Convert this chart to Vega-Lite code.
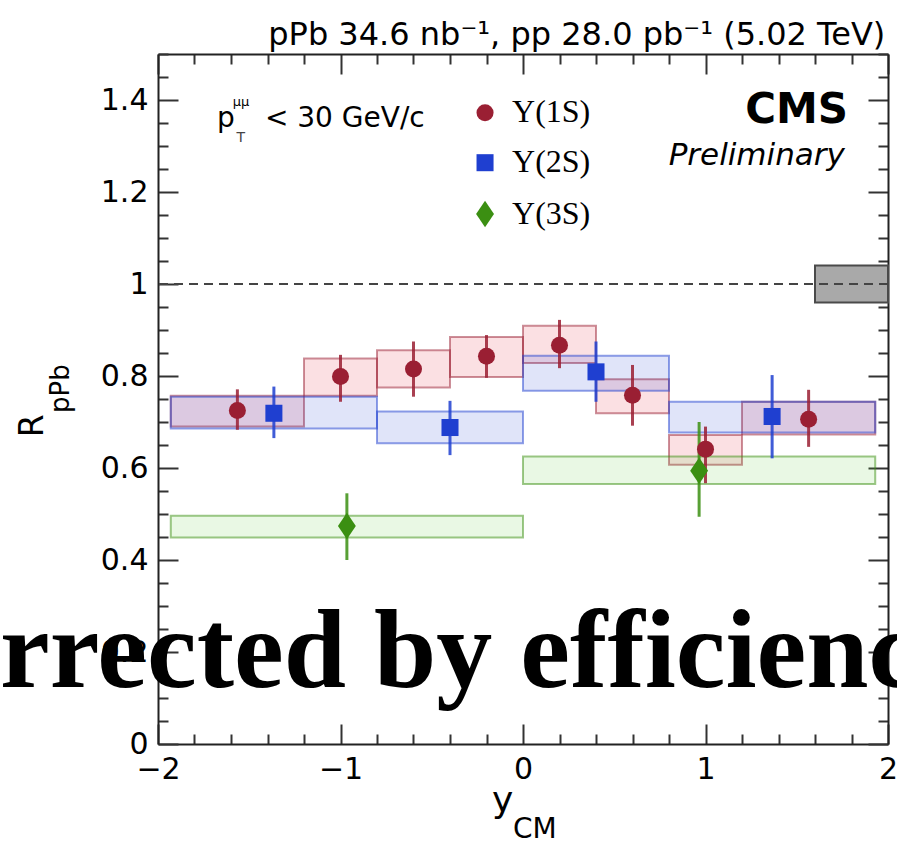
{
  "$schema": "https://vega.github.io/schema/vega-lite/v6.json",
  "width": 730,
  "height": 690,
  "autosize": {"type": "none"},
  "padding": {"left": 158, "top": 54, "right": 9, "bottom": 98},
  "background": "white",
  "config": {
    "view": {"stroke": null},
    "axis": {"grid": false}
  },
  "datasets": {
    "pts": [
      {"s": "Υ(1S)", "x": -1.565, "y": 0.725, "xlo": -1.93, "xhi": -1.2, "slo": 0.69, "shi": 0.757, "elo": 0.683, "ehi": 0.771},
      {"s": "Υ(1S)", "x": -1.0, "y": 0.799, "xlo": -1.2, "xhi": -0.8, "slo": 0.757, "shi": 0.838, "elo": 0.744, "ehi": 0.846},
      {"s": "Υ(1S)", "x": -0.6, "y": 0.815, "xlo": -0.8, "xhi": -0.4, "slo": 0.775, "shi": 0.856, "elo": 0.755, "ehi": 0.875},
      {"s": "Υ(1S)", "x": -0.2, "y": 0.843, "xlo": -0.4, "xhi": 0.0, "slo": 0.798, "shi": 0.885, "elo": 0.796, "ehi": 0.889},
      {"s": "Υ(1S)", "x": 0.2, "y": 0.867, "xlo": 0.0, "xhi": 0.4, "slo": 0.828, "shi": 0.909, "elo": 0.817, "ehi": 0.922},
      {"s": "Υ(1S)", "x": 0.6, "y": 0.758, "xlo": 0.4, "xhi": 0.8, "slo": 0.719, "shi": 0.793, "elo": 0.692, "ehi": 0.824},
      {"s": "Υ(1S)", "x": 1.0, "y": 0.641, "xlo": 0.8, "xhi": 1.2, "slo": 0.607, "shi": 0.672, "elo": 0.567, "ehi": 0.69},
      {"s": "Υ(1S)", "x": 1.565, "y": 0.706, "xlo": 1.2, "xhi": 1.93, "slo": 0.673, "shi": 0.744, "elo": 0.646, "ehi": 0.77},
      {"s": "Υ(2S)", "x": -1.365, "y": 0.719, "xlo": -1.93, "xhi": -0.8, "slo": 0.686, "shi": 0.755, "elo": 0.665, "ehi": 0.777},
      {"s": "Υ(2S)", "x": -0.4, "y": 0.688, "xlo": -0.8, "xhi": 0.0, "slo": 0.654, "shi": 0.723, "elo": 0.628, "ehi": 0.746},
      {"s": "Υ(2S)", "x": 0.4, "y": 0.809, "xlo": 0.0, "xhi": 0.8, "slo": 0.768, "shi": 0.844, "elo": 0.744, "ehi": 0.875},
      {"s": "Υ(2S)", "x": 1.365, "y": 0.712, "xlo": 0.8, "xhi": 1.93, "slo": 0.677, "shi": 0.744, "elo": 0.621, "ehi": 0.802},
      {"s": "Υ(3S)", "x": -0.965, "y": 0.474, "xlo": -1.93, "xhi": 0.0, "slo": 0.449, "shi": 0.496, "elo": 0.40, "ehi": 0.545},
      {"s": "Υ(3S)", "x": 0.965, "y": 0.594, "xlo": 0.0, "xhi": 1.93, "slo": 0.565, "shi": 0.625, "elo": 0.494, "ehi": 0.70}
    ],
    "glob": [{"xlo": 1.6, "xhi": 2.0, "ylo": 0.96, "yhi": 1.04}]
  },
  "layer": [
    {
      "data": {"name": "pts"},
      "mark": {"type": "rect", "fillOpacity": 0.14, "strokeOpacity": 0.5, "strokeWidth": 2},
      "encoding": {
        "x": {"field": "xlo", "type": "quantitative",
          "scale": {"domain": [-2, 2], "nice": false, "zero": false},
          "axis": {"orient": "bottom", "title": null,
            "values": [-2,-1.8,-1.6,-1.4,-1.2,-1,-0.8,-0.6,-0.4,-0.2,0,0.2,0.4,0.6,0.8,1,1.2,1.4,1.6,1.8,2],
            "format": "~g",
            "labelExpr": "abs(datum.value-round(datum.value))<0.001 ? datum.label : ''",
            "tickSize": {"condition": {"test": "abs(datum.value-round(datum.value))<0.001", "value": -20}, "value": -10},
            "labelFont": "DejaVu Sans", "labelFontSize": 30, "labelColor": "black",
            "labelPadding": 30, "labelFlush": false, "labelOverlap": false,
            "domainColor": "#222222", "domainWidth": 2, "tickColor": "#333333", "tickWidth": 2}},
        "x2": {"field": "xhi"},
        "y": {"field": "slo", "type": "quantitative",
          "scale": {"domain": [0, 1.5], "nice": false, "zero": false},
          "axis": {"orient": "left", "title": null,
            "values": [0,0.05,0.1,0.15,0.2,0.25,0.3,0.35,0.4,0.45,0.5,0.55,0.6,0.65,0.7,0.75,0.8,0.85,0.9,0.95,1,1.05,1.1,1.15,1.2,1.25,1.3,1.35,1.4,1.45,1.5],
            "format": "~g",
            "labelExpr": "abs(datum.value*5-round(datum.value*5))<0.001 ? datum.label : ''",
            "tickSize": {"condition": {"test": "abs(datum.value*5-round(datum.value*5))<0.001", "value": -20}, "value": -10},
            "labelFont": "DejaVu Sans", "labelFontSize": 30, "labelColor": "black",
            "labelPadding": 30, "labelFlush": false, "labelOverlap": false,
            "domainColor": "#222222", "domainWidth": 2, "tickColor": "#333333", "tickWidth": 2}},
        "y2": {"field": "shi"},
        "fill": {"field": "s", "type": "nominal", "scale": {"domain": ["Υ(1S)", "Υ(2S)", "Υ(3S)"], "range": ["#e0203a", "#2040d8", "#60d040"]}, "legend": null},
        "stroke": {"field": "s", "type": "nominal", "scale": {"domain": ["Υ(1S)", "Υ(2S)", "Υ(3S)"], "range": ["#9a1f33", "#1f3fd0", "#3b8f12"]}, "legend": null}
      }
    },
    {
      "data": {"name": "glob"},
      "mark": {"type": "rect", "fill": "#a9a9a9", "stroke": "#4a4a4a", "strokeWidth": 2},
      "encoding": {
        "x": {"field": "xlo", "type": "quantitative",
          "axis": {"orient": "top", "title": null, "labels": false,
            "values": [-2,-1.8,-1.6,-1.4,-1.2,-1,-0.8,-0.6,-0.4,-0.2,0,0.2,0.4,0.6,0.8,1,1.2,1.4,1.6,1.8,2],
            "tickSize": {"condition": {"test": "abs(datum.value-round(datum.value))<0.001", "value": -20}, "value": -10},
            "domainColor": "#222222", "domainWidth": 2, "tickColor": "#333333", "tickWidth": 2}},
        "x2": {"field": "xhi"},
        "y": {"field": "ylo", "type": "quantitative",
          "axis": {"orient": "right", "title": null, "labels": false,
            "values": [0,0.05,0.1,0.15,0.2,0.25,0.3,0.35,0.4,0.45,0.5,0.55,0.6,0.65,0.7,0.75,0.8,0.85,0.9,0.95,1,1.05,1.1,1.15,1.2,1.25,1.3,1.35,1.4,1.45,1.5],
            "tickSize": {"condition": {"test": "abs(datum.value*5-round(datum.value*5))<0.001", "value": -20}, "value": -10},
            "domainColor": "#222222", "domainWidth": 2, "tickColor": "#333333", "tickWidth": 2}},
        "y2": {"field": "yhi"}
      }
    },
    {
      "data": {"values": [{}]},
      "mark": {"type": "rule", "stroke": "#444444", "strokeWidth": 2, "strokeDash": [9, 6]},
      "encoding": {"y": {"datum": 1, "type": "quantitative", "axis": null}}
    },
    {
      "data": {"name": "pts"},
      "mark": {"type": "rule", "strokeWidth": 3, "opacity": 0.85},
      "encoding": {
        "x": {"field": "x", "type": "quantitative", "axis": null},
        "y": {"field": "elo", "type": "quantitative", "axis": null},
        "y2": {"field": "ehi"},
        "color": {"field": "s", "type": "nominal", "scale": {"domain": ["Υ(1S)", "Υ(2S)", "Υ(3S)"], "range": ["#9a1f33", "#1f3fd0", "#3b8f12"]}, "legend": null}
      }
    },
    {
      "data": {"name": "pts"},
      "mark": {"type": "point", "filled": true, "size": 290, "opacity": 1},
      "encoding": {
        "x": {"field": "x", "type": "quantitative", "axis": null},
        "y": {"field": "y", "type": "quantitative", "axis": null},
        "color": {"field": "s", "type": "nominal", "scale": {"domain": ["Υ(1S)", "Υ(2S)", "Υ(3S)"], "range": ["#9a1f33", "#1f3fd0", "#3b8f12"]}, "legend": null},
        "shape": {"field": "s", "type": "nominal", "scale": {"domain": ["Υ(1S)", "Υ(2S)", "Υ(3S)"], "range": ["circle", "square", "M0,-1.55L1.05,0L0,1.55L-1.05,0Z"]}, "legend": null}
      }
    },
    {
      "data": {"values": [{"s": "Υ(1S)"}]},
      "mark": {"type": "point", "filled": true, "size": 290, "opacity": 1},
      "encoding": {
        "x": {"datum": -0.208, "type": "quantitative", "axis": null},
        "y": {"datum": 1.3724, "type": "quantitative", "axis": null},
        "color": {"field": "s", "type": "nominal", "legend": null},
        "shape": {"field": "s", "type": "nominal", "legend": null}
      }
    },
    {
      "data": {"values": [{"s": "Υ(2S)"}]},
      "mark": {"type": "point", "filled": true, "size": 290, "opacity": 1},
      "encoding": {
        "x": {"datum": -0.208, "type": "quantitative", "axis": null},
        "y": {"datum": 1.2637, "type": "quantitative", "axis": null},
        "color": {"field": "s", "type": "nominal", "legend": null},
        "shape": {"field": "s", "type": "nominal", "legend": null}
      }
    },
    {
      "data": {"values": [{"s": "Υ(3S)"}]},
      "mark": {"type": "point", "filled": true, "size": 290, "opacity": 1},
      "encoding": {
        "x": {"datum": -0.208, "type": "quantitative", "axis": null},
        "y": {"datum": 1.1522, "type": "quantitative", "axis": null},
        "color": {"field": "s", "type": "nominal", "legend": null},
        "shape": {"field": "s", "type": "nominal", "legend": null}
      }
    },
    {
      "data": {"values": [{"s": "Υ(1S)"}]},
      "mark": {"type": "text", "font": "Liberation Serif", "fontSize": 32, "align": "left", "baseline": "alphabetic", "color": "black"},
      "encoding": {"x": {"datum": -0.06, "type": "quantitative", "axis": null}, "y": {"datum": 1.3517, "type": "quantitative", "axis": null}, "text": {"field": "s"}}
    },
    {
      "data": {"values": [{"s": "Υ(2S)"}]},
      "mark": {"type": "text", "font": "Liberation Serif", "fontSize": 32, "align": "left", "baseline": "alphabetic", "color": "black"},
      "encoding": {"x": {"datum": -0.06, "type": "quantitative", "axis": null}, "y": {"datum": 1.243, "type": "quantitative", "axis": null}, "text": {"field": "s"}}
    },
    {
      "data": {"values": [{"s": "Υ(3S)"}]},
      "mark": {"type": "text", "font": "Liberation Serif", "fontSize": 32, "align": "left", "baseline": "alphabetic", "color": "black"},
      "encoding": {"x": {"datum": -0.06, "type": "quantitative", "axis": null}, "y": {"datum": 1.1315, "type": "quantitative", "axis": null}, "text": {"field": "s"}}
    },
    {
      "data": {"values": [{"t": "pPb 34.6 nb⁻¹, pp 28.0 pb⁻¹ (5.02 TeV)"}]},
      "mark": {"type": "text", "font": "DejaVu Sans", "fontSize": 32, "align": "right", "baseline": "alphabetic", "color": "black"},
      "encoding": {"x": {"datum": 1.985, "type": "quantitative", "axis": null}, "y": {"datum": 1.52, "type": "quantitative", "axis": null}, "text": {"field": "t"}}
    },
    {
      "data": {"values": [{"t": "p"}]},
      "mark": {"type": "text", "font": "DejaVu Sans", "fontSize": 28, "align": "left", "baseline": "alphabetic", "color": "black"},
      "encoding": {"x": {"datum": -1.677, "type": "quantitative", "axis": null}, "y": {"datum": 1.341, "type": "quantitative", "axis": null}, "text": {"field": "t"}}
    },
    {
      "data": {"values": [{"t": "μμ"}]},
      "mark": {"type": "text", "font": "DejaVu Sans", "fontSize": 13, "align": "left", "baseline": "alphabetic", "color": "black"},
      "encoding": {"x": {"datum": -1.59, "type": "quantitative", "axis": null}, "y": {"datum": 1.387, "type": "quantitative", "axis": null}, "text": {"field": "t"}}
    },
    {
      "data": {"values": [{"t": "T"}]},
      "mark": {"type": "text", "font": "DejaVu Sans", "fontSize": 14, "align": "left", "baseline": "alphabetic", "color": "#444444"},
      "encoding": {"x": {"datum": -1.57, "type": "quantitative", "axis": null}, "y": {"datum": 1.309, "type": "quantitative", "axis": null}, "text": {"field": "t"}}
    },
    {
      "data": {"values": [{"t": "< 30 GeV/c"}]},
      "mark": {"type": "text", "font": "DejaVu Sans", "fontSize": 28, "align": "left", "baseline": "alphabetic", "color": "black"},
      "encoding": {"x": {"datum": -1.414, "type": "quantitative", "axis": null}, "y": {"datum": 1.341, "type": "quantitative", "axis": null}, "text": {"field": "t"}}
    },
    {
      "data": {"values": [{"t": "CMS"}]},
      "mark": {"type": "text", "font": "DejaVu Sans", "fontWeight": "bold", "fontSize": 42, "align": "right", "baseline": "alphabetic", "color": "black"},
      "encoding": {"x": {"datum": 1.781, "type": "quantitative", "axis": null}, "y": {"datum": 1.35, "type": "quantitative", "axis": null}, "text": {"field": "t"}}
    },
    {
      "data": {"values": [{"t": "Preliminary"}]},
      "mark": {"type": "text", "font": "DejaVu Sans", "fontStyle": "italic", "fontSize": 31, "align": "right", "baseline": "alphabetic", "color": "black"},
      "encoding": {"x": {"datum": 1.764, "type": "quantitative", "axis": null}, "y": {"datum": 1.259, "type": "quantitative", "axis": null}, "text": {"field": "t"}}
    },
    {
      "data": {"values": [{"t": "R"}]},
      "mark": {"type": "text", "font": "DejaVu Sans", "fontSize": 33, "align": "left", "baseline": "alphabetic", "angle": 270, "color": "black"},
      "encoding": {"x": {"datum": -2.63, "type": "quantitative", "axis": null}, "y": {"datum": 0.667, "type": "quantitative", "axis": null}, "text": {"field": "t"}}
    },
    {
      "data": {"values": [{"t": "pPb"}]},
      "mark": {"type": "text", "font": "DejaVu Sans", "fontSize": 26, "align": "left", "baseline": "alphabetic", "angle": 270, "color": "black"},
      "encoding": {"x": {"datum": -2.49, "type": "quantitative", "axis": null}, "y": {"datum": 0.7196, "type": "quantitative", "axis": null}, "text": {"field": "t"}}
    },
    {
      "data": {"values": [{"t": "y"}]},
      "mark": {"type": "text", "font": "DejaVu Sans", "fontSize": 36, "align": "left", "baseline": "alphabetic", "color": "black"},
      "encoding": {"x": {"datum": -0.17, "type": "quantitative", "axis": null}, "y": {"datum": -0.148, "type": "quantitative", "axis": null}, "text": {"field": "t"}}
    },
    {
      "data": {"values": [{"t": "CM"}]},
      "mark": {"type": "text", "font": "DejaVu Sans", "fontSize": 28, "align": "left", "baseline": "alphabetic", "color": "black"},
      "encoding": {"x": {"datum": -0.055, "type": "quantitative", "axis": null}, "y": {"datum": -0.204, "type": "quantitative", "axis": null}, "text": {"field": "t"}}
    },
    {
      "data": {"values": [{"t": "Corrected by efficiency"}]},
      "mark": {"type": "text", "font": "Liberation Serif", "fontWeight": "bold", "fontSize": 112, "align": "left", "baseline": "alphabetic", "color": "black"},
      "encoding": {"x": {"datum": -3.616, "type": "quantitative", "axis": null}, "y": {"datum": 0.124, "type": "quantitative", "axis": null}, "text": {"field": "t"}}
    }
  ],
  "resolve": {"axis": {"x": "independent", "y": "independent"}}
}
